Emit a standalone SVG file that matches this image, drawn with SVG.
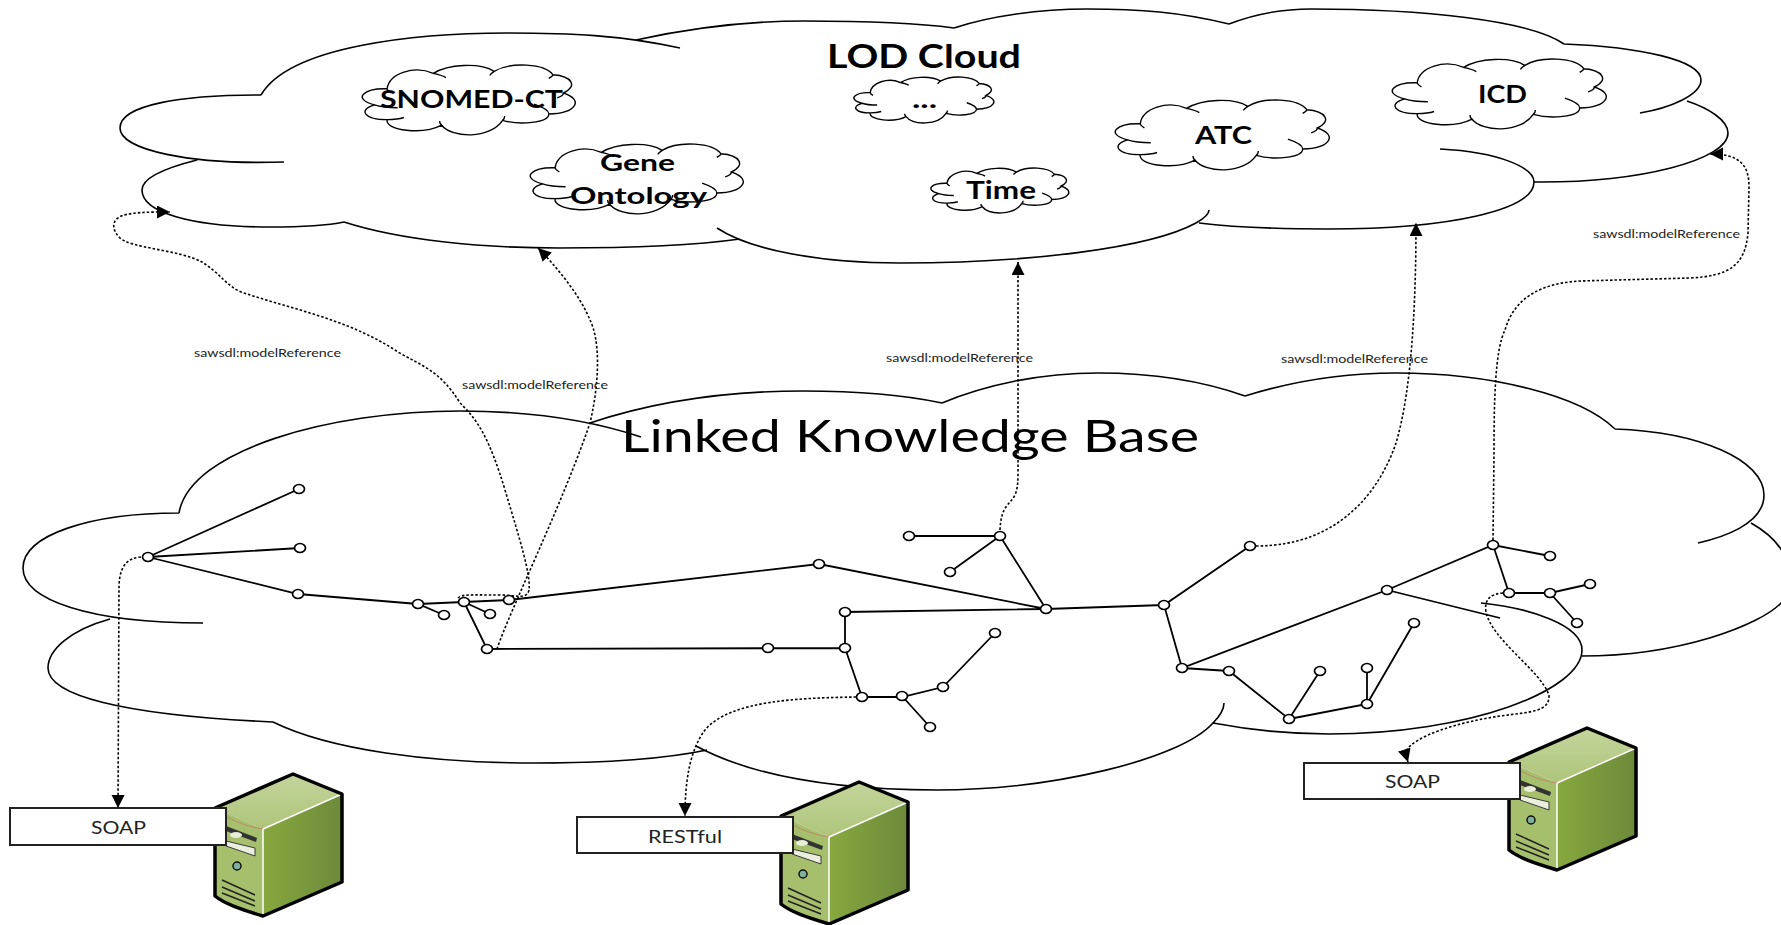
<svg xmlns="http://www.w3.org/2000/svg" xmlns:xlink="http://www.w3.org/1999/xlink" width="1781" height="925" viewBox="0 0 1781 925">
<style>
.c{fill:none;stroke:#000;stroke-width:1.6}
.s{fill:none;stroke:#000;stroke-width:1.4;vector-effect:non-scaling-stroke}
.e{fill:none;stroke:#000;stroke-width:1.8}
.d{fill:none;stroke:#000;stroke-width:1.6;stroke-dasharray:2.5 2}
.n{fill:#fff;stroke:#000;stroke-width:1.7}
.b{fill:#fff;stroke:#222;stroke-width:2}
text{font-family:Lato,"Liberation Sans",sans-serif;fill:#000}
.t{font-weight:700}
.l{font-size:12px;fill:#222}
.p{font-size:18px;fill:#222}
</style>
<defs>
<marker id="a" markerUnits="userSpaceOnUse" markerWidth="14" markerHeight="14" refX="13" refY="6.5" orient="auto"><path d="M0,0L13,6.5L0,13z" fill="#000"/></marker>
<linearGradient id="gt" x1="0" y1="0" x2="0" y2="1"><stop offset="0" stop-color="#c3d59b"/><stop offset="1" stop-color="#aec47a"/></linearGradient>
<linearGradient id="gr" x1="0" y1="0" x2="1" y2="0"><stop offset="0" stop-color="#87a83e"/><stop offset="1" stop-color="#6d8a3b"/></linearGradient>
<path id="cl" class="s" d="M11,34C12,12 24,0 33,12C40,-1 55,-4 62,9C70,-5 86,-2 90,14C99,16 102,30 95,40C105,50 101,69 88,70C88,83 74,86 66,79C60,106 42,105 37,86C28,100 10,94 11,78C0,78 -3,64 5,57C-6,48 0,33 11,34ZM81,56C85,60 88,65 88,70M95,40C95,43 94,45 92,47M66,79C67,77 67,75 67,73M37,86C36,84 36,82 36,80M11,78C14,78 17,77 19,75M5,57C8,60 12,61 16,61M11,34C11,36 12,38 13,40M33,12C36,14 38,16 39,18M62,9C61,11 60,13 60,15M90,14C90,16 89,17 88,19"/>
<g id="srv">
<path d="M215,808L293,774L342,794L263,829Z" fill="url(#gt)"/>
<path d="M263,829L342,794V882L263,916Z" fill="url(#gr)"/>
<path d="M215,808L263,829V916C240,909 225,904 215,896Z" fill="#a6bf6c"/>
<path d="M215,808C228,820 245,826 263,829" fill="none" stroke="#b98c6c" stroke-width="1"/>
<path d="M226,826L257,838L256,842L226,831Z" fill="#333"/>
<ellipse cx="236" cy="835" rx="6" ry="3" fill="#e8efd8"/>
<path d="M226,841L255,848V856L226,846Z" fill="#e9efdc" stroke="#3a3a3a" stroke-width="1"/>
<circle cx="237" cy="866" r="4" fill="#7fb09c" stroke="#111" stroke-width="1.5"/>
<path d="M222,880L255,895M222,887L255,901M222,893L255,906" fill="none" stroke="#222" stroke-width="1.5"/>
<path d="M263,829L342,794M263,829V916" fill="none" stroke="#fff" stroke-width="1.5"/>
<path d="M215,808L293,774L342,794V882L263,916C240,909 225,904 215,896Z" fill="none" stroke="#000" stroke-width="3.5" stroke-linejoin="round"/>
</g>
</defs>
<rect width="1781" height="925" fill="#fff"/>
<g id="lod-cloud">
<path class="c" d="M680,48C620,35 570,33 508,33C420,33 290,45 261,95M261,95C180,95 120,105 120,128C120,150 190,165 284,162M197,160C165,168 142,178 142,190C142,212 190,227 270,227C300,227 325,226 344,222M344,222C400,240 480,248 559,248C630,248 690,246 740,239M717,228C750,250 820,263 900,263C1030,263 1150,248 1196,223C1203,219 1209,214 1209,210M1199,223C1240,228 1290,229 1328,229C1450,229 1534,210 1534,182C1534,168 1500,152 1440,149M1534,182C1640,183 1728,160 1728,133C1728,120 1708,108 1687,101M1640,113C1670,108 1701,95 1701,80C1701,60 1640,47 1564,44M1564,44C1530,20 1420,9 1311,9C1290,9 1260,12 1229,24M1229,24C1180,12 1140,9 1087,9C1040,9 990,16 954,28M954,28C910,22 860,21 804,21C750,21 690,28 636,40"/>
<text class="t" x="827" y="68" font-size="32" textLength="194" lengthAdjust="spacingAndGlyphs">LOD Cloud</text>
</g>
<g id="snomed"><use xlink:href="#cl" href="#cl" transform="translate(364,65) scale(2.1,.7)"/><text class="t" x="380" y="108" font-size="24" textLength="183" lengthAdjust="spacingAndGlyphs">SNOMED-CT</text></g>
<g id="etc"><use xlink:href="#cl" href="#cl" transform="translate(855,77) scale(1.38,.46)"/><text class="t" x="912" y="108" font-size="24" textLength="25" lengthAdjust="spacingAndGlyphs">...</text></g>
<g id="gene"><use xlink:href="#cl" href="#cl" transform="translate(532,144) scale(2.1,.7)"/><text class="t" x="600" y="171" font-size="23" textLength="75" lengthAdjust="spacingAndGlyphs">Gene</text><text class="t" x="570" y="204" font-size="23" textLength="137" lengthAdjust="spacingAndGlyphs">Ontology</text></g>
<g id="time"><use xlink:href="#cl" href="#cl" transform="translate(932,168) scale(1.36,.45)"/><text class="t" x="966" y="199" font-size="24" textLength="70" lengthAdjust="spacingAndGlyphs">Time</text></g>
<g id="atc"><use xlink:href="#cl" href="#cl" transform="translate(1117,100) scale(2.11,.7)"/><text class="t" x="1195" y="144" font-size="24" textLength="57" lengthAdjust="spacingAndGlyphs">ATC</text></g>
<g id="icd"><use xlink:href="#cl" href="#cl" transform="translate(1394,59) scale(2.11,.7)"/><text class="t" x="1478" y="103" font-size="24" textLength="49" lengthAdjust="spacingAndGlyphs">ICD</text></g>
<g id="kb-cloud">
<path class="c" d="M179,513C190,450 330,411 460,411C530,411 590,420 641,437M179,513C90,513 23,535 23,568C23,600 90,623 203,623M110,619C70,630 48,650 48,668C48,695 120,715 273,722C330,750 430,763 534,763C600,763 660,760 707,750M696,746C750,775 830,790 937,790C1050,790 1180,760 1213,723C1220,716 1224,710 1224,703M1213,723C1250,730 1290,734 1329,734C1470,734 1582,690 1582,650C1582,625 1530,608 1481,603M1582,656C1680,656 1760,625 1781,603C1800,580 1790,545 1751,523M1698,543C1720,538 1764,525 1764,495C1764,460 1700,432 1615,429M1615,429C1580,395 1490,373 1396,373C1340,373 1290,382 1245,396M1245,396C1200,380 1150,373 1098,373C1040,373 985,385 942,403M942,403C900,394 850,391 803,391C720,391 650,403 590,423"/>
<text x="621" y="452" font-size="45" textLength="578" lengthAdjust="spacingAndGlyphs">Linked Knowledge Base</text>
</g>
<g id="connectors">
<path class="e" d="M148,557L299,489M148,557L300,548M148,557L298,594L418,604L444,615M418,604L509,600M464,602L490,614M464,602L487,649L845,648V612L1046,609M509,600L819,564L1046,609M845,648L862,697H902L943,687L995,633M902,696L930,727M1046,609L1000,536H909M1000,536L950,572M1046,609L1164,605L1250,546M1164,605L1182,668L1387,590L1493,545L1550,556M1387,590L1500,618M1182,668L1229,671L1289,719L1320,671M1289,719L1367,704V668M1367,704L1414,623M1493,545L1509,593H1550L1590,584M1550,593L1577,623"/>
<path class="d" marker-end="url(#a)" d="M458,598C462,594 470,595 500,595C515,595 527,600 529,590C531,575 520,540 505,490C490,440 478,420 460,403C440,370 420,365 398,352C350,320 295,310 244,293C228,288 220,273 202,262C180,250 130,248 120,238C112,230 112,222 118,218C125,212 150,212 170,212"/>
<path class="d" marker-end="url(#a)" d="M497,649C510,610 560,510 590,423C600,380 600,340 590,320C580,295 555,265 538,248"/>
<path class="d" marker-end="url(#a)" d="M1000,530C1001,505 1010,505 1015,495C1018,488 1018,480 1018,470V262"/>
<path class="d" marker-end="url(#a)" d="M1256,546C1340,546 1380,490 1396,443C1412,390 1416,300 1416,223"/>
<path class="d" marker-end="url(#a)" d="M1493,540L1494,454C1494,400 1495,350 1505,330C1515,295 1545,283 1580,281L1690,278C1730,276 1745,265 1748,233L1749,187C1749,165 1740,154 1710,154"/>
<path class="d" marker-end="url(#a)" d="M141,557C128,558 120,565 119,585L118,808"/>
<path class="d" marker-end="url(#a)" d="M856,697C800,698 730,700 705,730C690,750 685,780 685,816"/>
<path class="d" marker-end="url(#a)" d="M1503,593C1490,594 1484,600 1486,612C1492,640 1540,670 1549,695C1550,712 1530,712 1500,716C1460,722 1415,735 1405,752L1408,762"/>
</g>
<g id="link-labels">
<text class="l" x="194" y="357" textLength="147" lengthAdjust="spacingAndGlyphs">sawsdl:modelReference</text>
<text class="l" x="462" y="389" textLength="146" lengthAdjust="spacingAndGlyphs">sawsdl:modelReference</text>
<text class="l" x="886" y="362" textLength="147" lengthAdjust="spacingAndGlyphs">sawsdl:modelReference</text>
<text class="l" x="1281" y="363" textLength="147" lengthAdjust="spacingAndGlyphs">sawsdl:modelReference</text>
<text class="l" x="1593" y="238" textLength="147" lengthAdjust="spacingAndGlyphs">sawsdl:modelReference</text>
</g>
<g id="n1"><ellipse class="n" cx="148" cy="557" rx="5.5" ry="4.5"/></g>
<g id="n2"><ellipse class="n" cx="299" cy="489" rx="5.5" ry="4.5"/></g>
<g id="n3"><ellipse class="n" cx="300" cy="548" rx="5.5" ry="4.5"/></g>
<g id="n4"><ellipse class="n" cx="298" cy="594" rx="5.5" ry="4.5"/></g>
<g id="n5"><ellipse class="n" cx="418" cy="604" rx="5.5" ry="4.5"/></g>
<g id="n6"><ellipse class="n" cx="444" cy="615" rx="5.5" ry="4.5"/></g>
<g id="n7"><ellipse class="n" cx="464" cy="602" rx="5.5" ry="4.5"/></g>
<g id="n8"><ellipse class="n" cx="490" cy="614" rx="5.5" ry="4.5"/></g>
<g id="n9"><ellipse class="n" cx="509" cy="600" rx="5.5" ry="4.5"/></g>
<g id="n10"><ellipse class="n" cx="487" cy="649" rx="5.5" ry="4.5"/></g>
<g id="n11"><ellipse class="n" cx="819" cy="564" rx="5.5" ry="4.5"/></g>
<g id="n12"><ellipse class="n" cx="909" cy="536" rx="5.5" ry="4.5"/></g>
<g id="n13"><ellipse class="n" cx="1000" cy="536" rx="5.5" ry="4.5"/></g>
<g id="n14"><ellipse class="n" cx="950" cy="572" rx="5.5" ry="4.5"/></g>
<g id="n15"><ellipse class="n" cx="1046" cy="609" rx="5.5" ry="4.5"/></g>
<g id="n16"><ellipse class="n" cx="845" cy="612" rx="5.5" ry="4.5"/></g>
<g id="n17"><ellipse class="n" cx="845" cy="648" rx="5.5" ry="4.5"/></g>
<g id="n18"><ellipse class="n" cx="768" cy="648" rx="5.5" ry="4.5"/></g>
<g id="n19"><ellipse class="n" cx="862" cy="697" rx="5.5" ry="4.5"/></g>
<g id="n20"><ellipse class="n" cx="902" cy="696" rx="5.5" ry="4.5"/></g>
<g id="n21"><ellipse class="n" cx="943" cy="687" rx="5.5" ry="4.5"/></g>
<g id="n22"><ellipse class="n" cx="995" cy="633" rx="5.5" ry="4.5"/></g>
<g id="n23"><ellipse class="n" cx="930" cy="727" rx="5.5" ry="4.5"/></g>
<g id="n24"><ellipse class="n" cx="1164" cy="605" rx="5.5" ry="4.5"/></g>
<g id="n25"><ellipse class="n" cx="1250" cy="546" rx="5.5" ry="4.5"/></g>
<g id="n26"><ellipse class="n" cx="1182" cy="668" rx="5.5" ry="4.5"/></g>
<g id="n27"><ellipse class="n" cx="1229" cy="671" rx="5.5" ry="4.5"/></g>
<g id="n28"><ellipse class="n" cx="1387" cy="590" rx="5.5" ry="4.5"/></g>
<g id="n29"><ellipse class="n" cx="1493" cy="545" rx="5.5" ry="4.5"/></g>
<g id="n30"><ellipse class="n" cx="1550" cy="556" rx="5.5" ry="4.5"/></g>
<g id="n31"><ellipse class="n" cx="1509" cy="593" rx="5.5" ry="4.5"/></g>
<g id="n32"><ellipse class="n" cx="1550" cy="593" rx="5.5" ry="4.5"/></g>
<g id="n33"><ellipse class="n" cx="1590" cy="584" rx="5.5" ry="4.5"/></g>
<g id="n34"><ellipse class="n" cx="1577" cy="623" rx="5.5" ry="4.5"/></g>
<g id="n35"><ellipse class="n" cx="1414" cy="623" rx="5.5" ry="4.5"/></g>
<g id="n36"><ellipse class="n" cx="1367" cy="668" rx="5.5" ry="4.5"/></g>
<g id="n37"><ellipse class="n" cx="1320" cy="671" rx="5.5" ry="4.5"/></g>
<g id="n38"><ellipse class="n" cx="1367" cy="704" rx="5.5" ry="4.5"/></g>
<g id="n39"><ellipse class="n" cx="1289" cy="719" rx="5.5" ry="4.5"/></g>
<g id="server1"><use xlink:href="#srv" href="#srv"/></g>
<g id="server2"><use xlink:href="#srv" href="#srv" transform="translate(566,8)"/></g>
<g id="server3"><use xlink:href="#srv" href="#srv" transform="translate(1294,-46)"/></g>
<g id="soap1"><rect class="b" x="10" y="808" width="216" height="37"/><text class="p" x="91" y="834" textLength="55" lengthAdjust="spacingAndGlyphs">SOAP</text></g>
<g id="restful"><rect class="b" x="577" y="817" width="216" height="36"/><text class="p" x="648" y="843" textLength="74" lengthAdjust="spacingAndGlyphs">RESTful</text></g>
<g id="soap2"><rect class="b" x="1304" y="763" width="216" height="36"/><text class="p" x="1385" y="788" textLength="55" lengthAdjust="spacingAndGlyphs">SOAP</text></g>
</svg>
